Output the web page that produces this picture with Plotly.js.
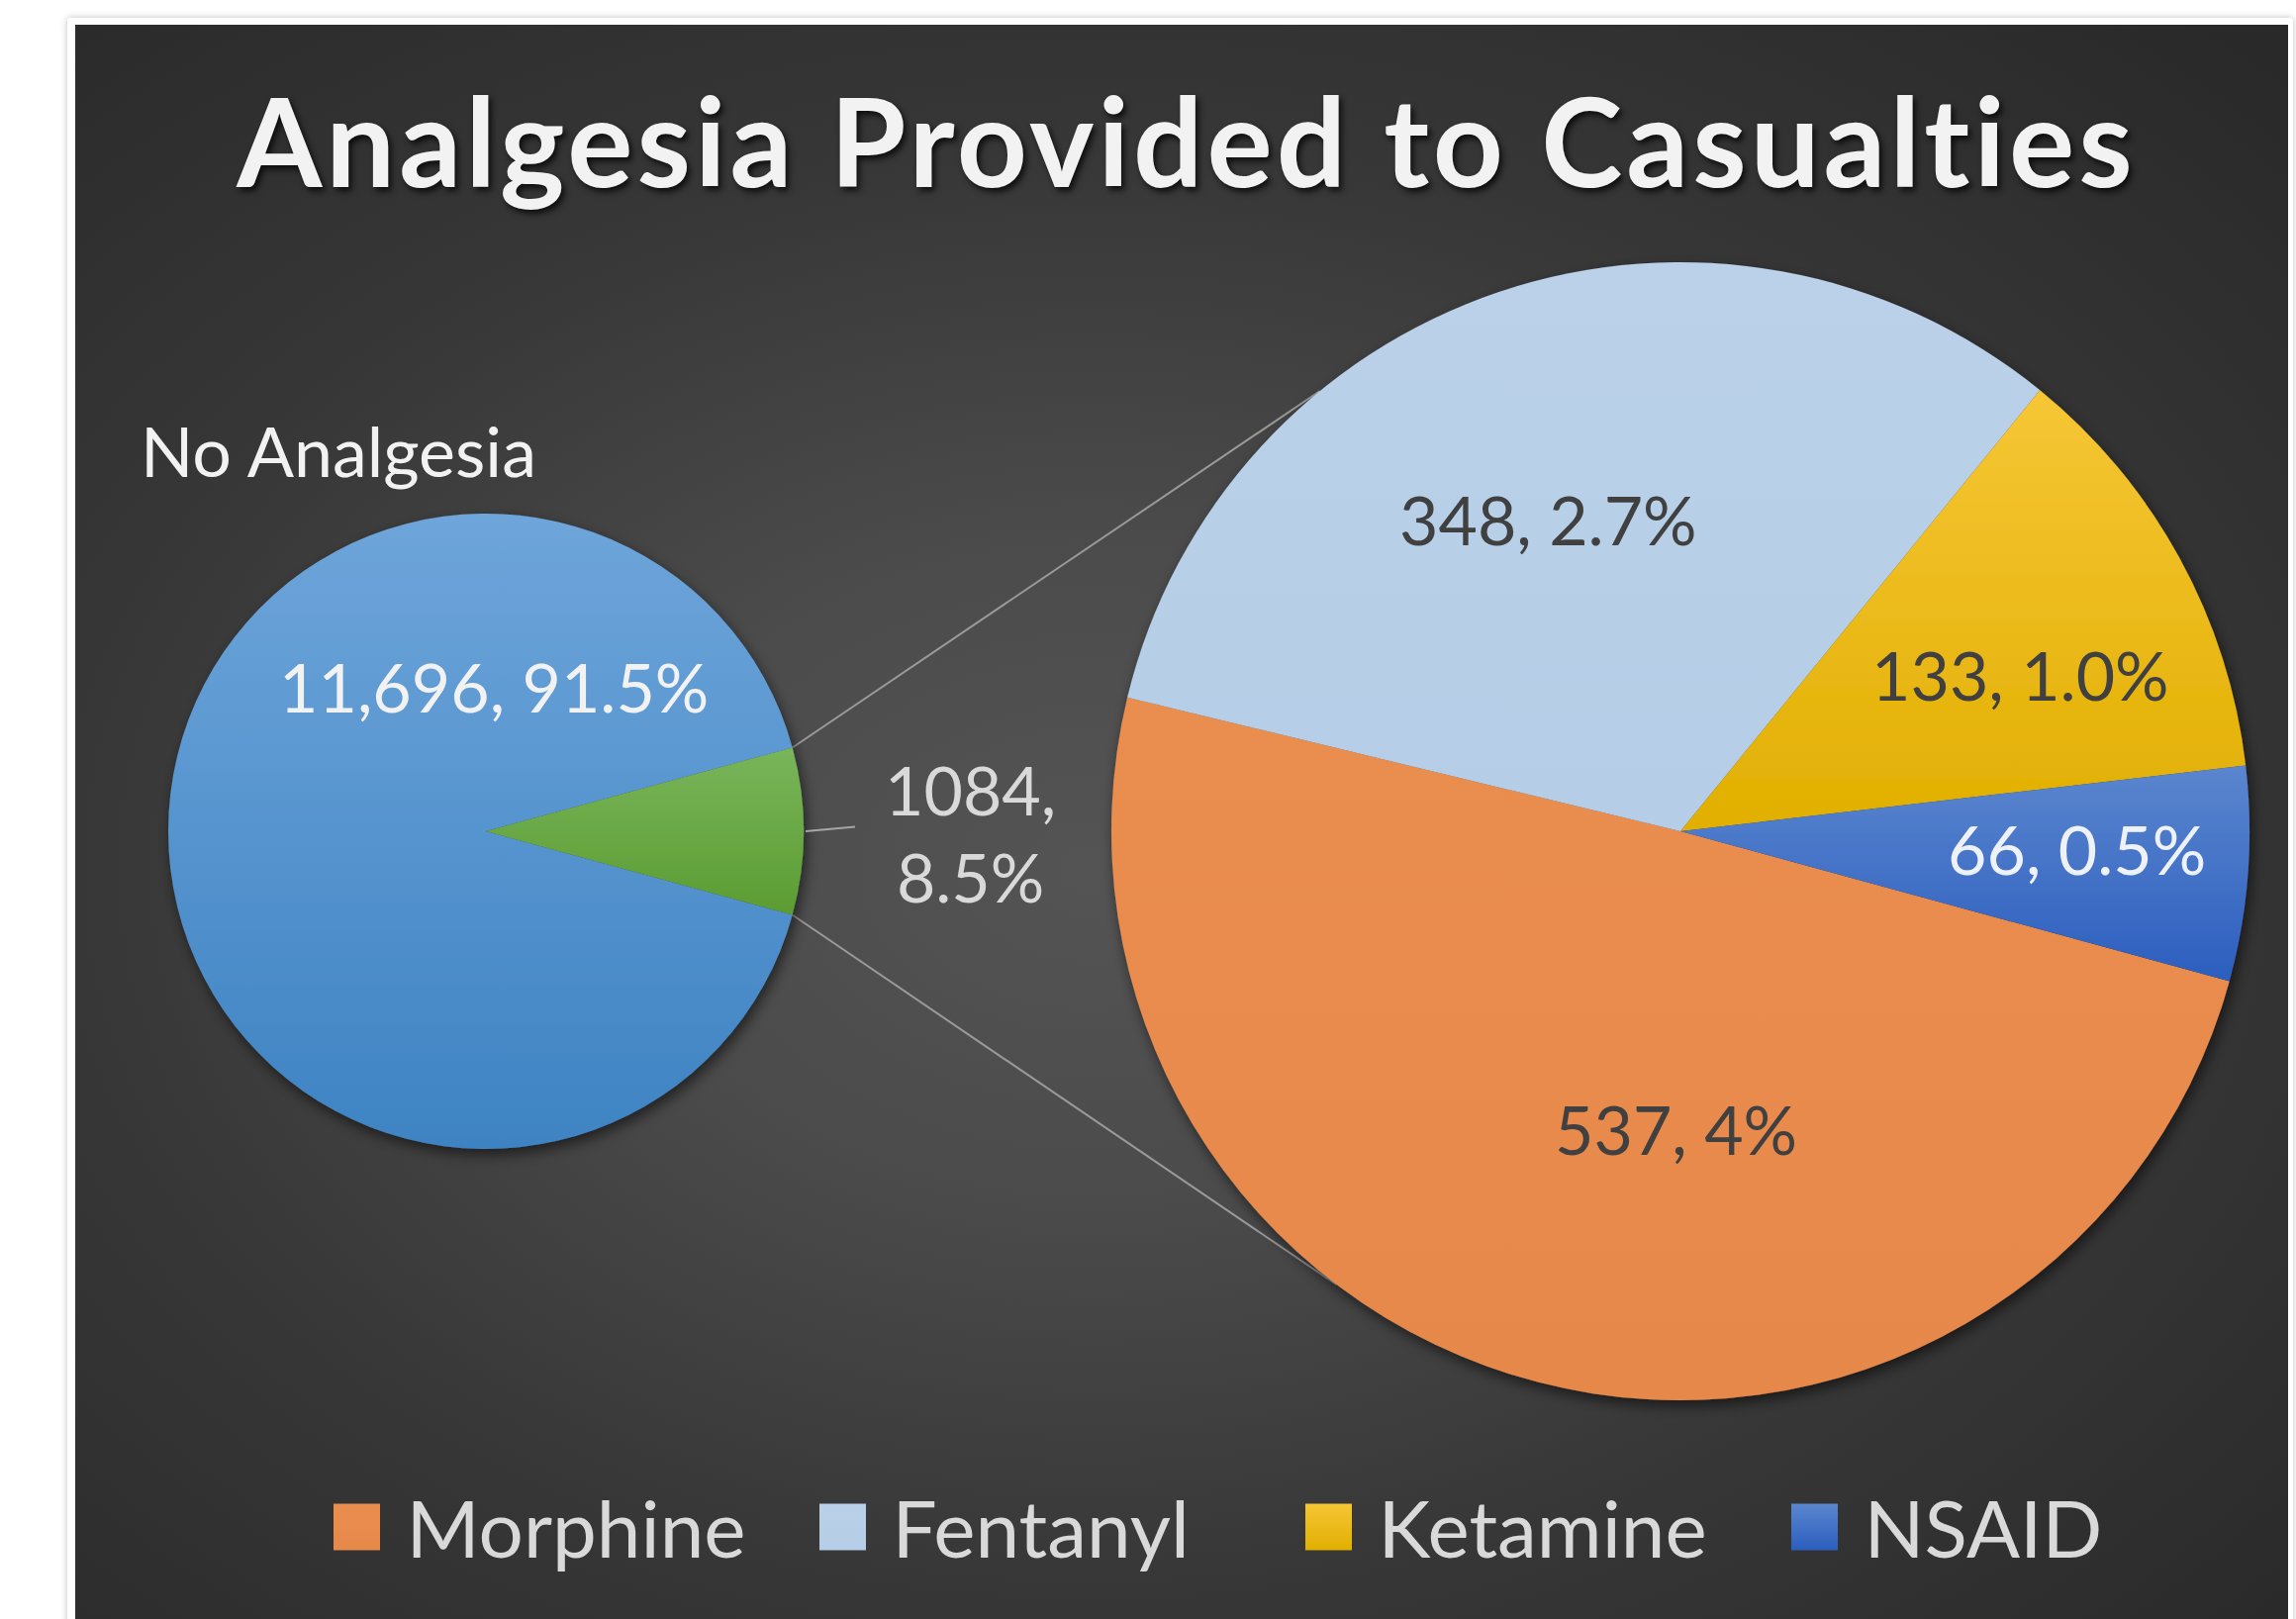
<!DOCTYPE html>
<html>
<head>
<meta charset="utf-8">
<script src="https://cdn.plot.ly/plotly-3.0.1.min.js"></script>
<style>
  html, body { margin: 0; padding: 0; background: #ffffff; width: 2320px; height: 1636px; overflow: hidden; }
  #card { position: absolute; left: 68px; top: 18px; width: 2249px; height: 1660px; background: #ffffff;
          box-shadow: 0 0 7px rgba(0,0,0,0.25); border-radius: 3px; }
  #bg { position: absolute; left: 76px; top: 25px; width: 2236px; height: 1640px;
        background: radial-gradient(ellipse farthest-corner at 46% 52%, #545454 0%, #4b4b4b 28%, #373737 60%, #282828 100%); }
  #chart { position: absolute; left: 0; top: 0; width: 2320px; height: 1636px; }
  #chart text { font-variant-ligatures: none; }
  #chart .gtitle { letter-spacing: 4px; }
</style>
</head>
<body>
<div id="card"></div>
<div id="bg"></div>
<div id="chart"></div>
<script>
// ---------------- data ----------------
const chartTitle = 'Analgesia Provided to Casualties';

const leftLabels = ['No Analgesia', 'Analgesia'];
const leftValues = [11696, 1084];
const leftPctLabels = ['91.5%', '8.5%'];
const leftThousands = [true, false];

const rightLabels = ['Morphine', 'Fentanyl', 'Ketamine', 'NSAID'];
const rightValues = [537, 348, 133, 66];
const rightPctLabels = ['4%', '2.7%', '1.0%', '0.5%'];

// ---------------- style ----------------
const W = 2320, H = 1636;
const FONT = 'Lato, "Open Sans", sans-serif';

const leftColors  = ['#5b9bd5', '#6dab45'];
const leftTop     = ['#6ea5da', '#79b55a'];
const leftBottom  = ['#3e83c3', '#5b9c32'];
const rightColors = ['#e88b4c', '#b8cfe8', '#f0bc0f', '#4472c4'];
const rightTop    = ['#ea8e50', '#bad1e9', '#f6c636', '#5b86ce'];
const rightBottom = ['#e6884a', '#b6cde7', '#e1af00', '#2c5ebf'];

const leftTextColors  = ['#f2f2f2', '#d9d9d9'];
const rightTextColors = ['#404040', '#404040', '#404040', '#eef2f8'];

// pie geometry (px)
const leftPie  = {cx: 491, cy: 840, r: 321};
const rightPie = {cx: 1698, cy: 840, r: 575};

// label placement, as fractions of the radius relative to each pie centre
const leftLabelPos  = [[0.025, -0.455], [1.525, 0.006]];
const leftNamePos   = [-1.093, -1.199];
const rightLabelPos = [[-0.007, 0.523], [-0.232, -0.548], [0.598, -0.276], [0.696, 0.031]];

// connector end angles on the right pie (deg, clockwise from 12 o'clock)
const connectorRightAngles = [320.7, 217.2];

// ---------------- helpers ----------------
const px2x = p => p / W;
const px2y = p => 1 - p / H;
function domainOf(p) {
  return {x: [px2x(p.cx - p.r), px2x(p.cx + p.r)], y: [px2y(p.cy + p.r), px2y(p.cy - p.r)]};
}
function pointOn(p, deg, rr) {
  const a = deg * Math.PI / 180;
  const rad = (rr === undefined ? p.r : rr);
  return [p.cx + rad * Math.sin(a), p.cy - rad * Math.cos(a)];
}
function fmt(v, thousands) { return thousands ? v.toLocaleString('en-US') : String(v); }

const leftTotal = leftValues.reduce((a, b) => a + b, 0);
// second slice (the one broken out) centred at 3 o'clock
const greenHalf = 0.5 * 360 * leftValues[1] / leftTotal;
const startAngle = 90 + greenHalf;

// ---------------- traces ----------------
const leftTrace = {
  type: 'pie', labels: leftLabels, values: leftValues, sort: false,
  direction: 'clockwise', rotation: startAngle,
  domain: domainOf(leftPie),
  marker: {colors: leftColors, line: {width: 0}},
  textinfo: 'none', hoverinfo: 'skip', showlegend: false
};
const rightTrace = {
  type: 'pie', labels: rightLabels, values: rightValues, sort: false,
  direction: 'clockwise', rotation: startAngle,
  domain: domainOf(rightPie),
  marker: {colors: rightColors, line: {width: 0}},
  textinfo: 'none', hoverinfo: 'skip', showlegend: true
};

// ---------------- annotations (data labels) ----------------
const annotations = [];
leftValues.forEach((v, i) => {
  const pos = leftLabelPos[i];
  const sep = i === 0 ? ', ' : ',<br>';
  annotations.push({
    xref: 'paper', yref: 'paper',
    x: px2x(leftPie.cx + pos[0] * leftPie.r), y: px2y(leftPie.cy + pos[1] * leftPie.r),
    xanchor: 'center', yanchor: 'middle', showarrow: false,
    text: fmt(v, leftThousands[i]) + sep + leftPctLabels[i],
    font: {family: FONT, size: 68, color: leftTextColors[i]}
  });
});
annotations.push({
  xref: 'paper', yref: 'paper',
  x: px2x(leftPie.cx + leftNamePos[0] * leftPie.r), y: px2y(leftPie.cy + leftNamePos[1] * leftPie.r),
  xanchor: 'left', yanchor: 'middle', showarrow: false,
  text: leftLabels[0],
  font: {family: FONT, size: 70, color: '#f2f2f2'}
});
rightValues.forEach((v, i) => {
  const pos = rightLabelPos[i];
  annotations.push({
    xref: 'paper', yref: 'paper',
    x: px2x(rightPie.cx + pos[0] * rightPie.r), y: px2y(rightPie.cy + pos[1] * rightPie.r),
    xanchor: 'center', yanchor: 'middle', showarrow: false,
    text: fmt(v, true) + ', ' + rightPctLabels[i],
    font: {family: FONT, size: 68, color: rightTextColors[i]}
  });
});

// ---------------- series lines ----------------
const shapes = [];
const leftEdgeAngles = [90 - greenHalf, 90 + greenHalf];
leftEdgeAngles.forEach((a, i) => {
  const p0 = pointOn(leftPie, a);
  const p1 = pointOn(rightPie, connectorRightAngles[i]);
  shapes.push({type: 'line', xref: 'paper', yref: 'paper', layer: 'below',
    x0: px2x(p0[0]), y0: px2y(p0[1]), x1: px2x(p1[0]), y1: px2y(p1[1]),
    line: {color: '#9a9a9a', width: 2}});
});
// leader line for the broken-out slice label
(function () {
  const p0 = pointOn(leftPie, 90, leftPie.r + 2);
  const p1 = pointOn(leftPie, 89.3, leftPie.r + 52);
  shapes.push({type: 'line', xref: 'paper', yref: 'paper',
    x0: px2x(p0[0]), y0: px2y(p0[1]), x1: px2x(p1[0]), y1: px2y(p1[1]),
    line: {color: '#a6a6a6', width: 2}});
})();

// ---------------- layout ----------------
const layout = {
  width: W, height: H,
  margin: {l: 0, r: 0, t: 0, b: 0},
  paper_bgcolor: 'rgba(0,0,0,0)', plot_bgcolor: 'rgba(0,0,0,0)',
  title: {
    text: chartTitle, x: 1199 / W, xanchor: 'center', xref: 'paper',
    y: px2y(146), yanchor: 'middle', yref: 'paper',
    font: {family: FONT, size: 124, weight: 700, color: '#f2f2f2', shadow: '3px 4px 6px rgba(0,0,0,0.75)'}
  },
  legend: {
    orientation: 'h', x: px2x(310.5), xanchor: 'left', y: px2y(1543), yanchor: 'middle',
    font: {family: FONT, size: 80, color: '#d9d9d9'},
    itemwidth: 90, entrywidth: 386, entrywidthmode: 'pixels',
    bgcolor: 'rgba(0,0,0,0)', borderwidth: 0
  },
  annotations: annotations,
  shapes: shapes,
  showlegend: true
};

function decorate(gd) {
  const ns = 'http://www.w3.org/2000/svg';
  const svg = gd.querySelector('svg.main-svg');
  if (!svg) return;
  let defs = svg.querySelector('defs');
  if (!defs) { defs = document.createElementNS(ns, 'defs'); svg.insertBefore(defs, svg.firstChild); }
  function grad(id, top, bottom) {
    const g = document.createElementNS(ns, 'linearGradient');
    g.setAttribute('id', id);
    g.setAttribute('x1', '0'); g.setAttribute('y1', '0'); g.setAttribute('x2', '0'); g.setAttribute('y2', '1');
    [[0, top], [1, bottom]].forEach(function (s) {
      const st = document.createElementNS(ns, 'stop');
      st.setAttribute('offset', s[0]); st.setAttribute('stop-color', s[1]);
      g.appendChild(st);
    });
    defs.appendChild(g);
  }
  leftTop.forEach((c, i) => grad('gL' + i, c, leftBottom[i]));
  rightTop.forEach((c, i) => grad('gR' + i, c, rightBottom[i]));

  const f = document.createElementNS(ns, 'filter');
  f.setAttribute('id', 'pieShadow');
  f.setAttribute('x', '-20%'); f.setAttribute('y', '-20%'); f.setAttribute('width', '140%'); f.setAttribute('height', '140%');
  const ds = document.createElementNS(ns, 'feDropShadow');
  ds.setAttribute('dx', '3'); ds.setAttribute('dy', '6'); ds.setAttribute('stdDeviation', '7');
  ds.setAttribute('flood-color', '#000'); ds.setAttribute('flood-opacity', '0.55');
  f.appendChild(ds);
  defs.appendChild(f);

  const traces = gd.querySelectorAll('.pielayer .trace');
  traces.forEach(function (t, ti) {
    t.setAttribute('filter', 'url(#pieShadow)');
    t.querySelectorAll('.slice path.surface').forEach(function (p, i) {
      p.style.fill = 'url(#' + (ti === 0 ? 'gL' : 'gR') + i + ')';
    });
  });
  gd.querySelectorAll('.legend .legendpie').forEach(function (p, i) {
    p.setAttribute('d', 'M23.5,23.5H-23.5V-23.5H23.5Z');
    p.style.fill = 'url(#gR' + i + ')';
  });
}

Plotly.newPlot('chart', [leftTrace, rightTrace], layout, {staticPlot: true, displayModeBar: false})
  .then(decorate);
</script>
</body>
</html>
